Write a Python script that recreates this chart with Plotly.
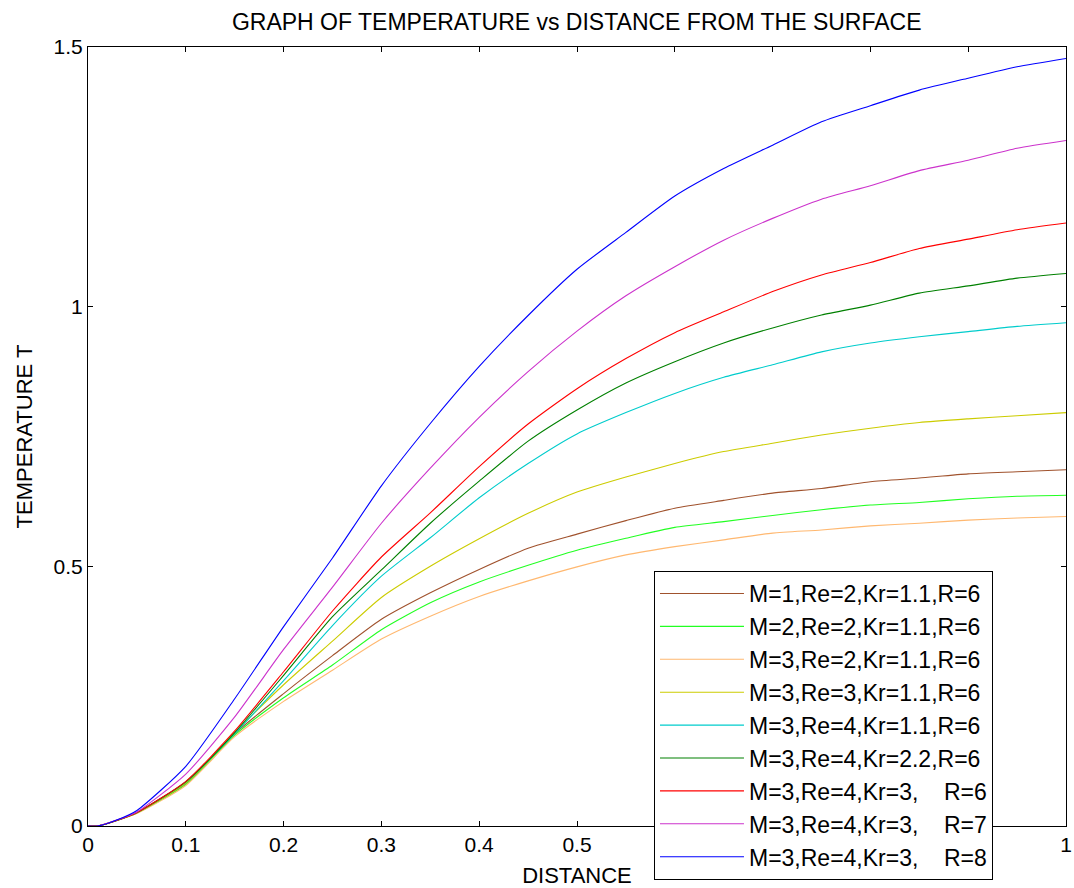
import plotly.graph_objects as go

distance = [0, 0.01, 0.03, 0.05, 0.1, 0.15, 0.2, 0.25, 0.3, 0.35, 0.4, 0.45, 0.5,
            0.55, 0.6, 0.65, 0.7, 0.75, 0.8, 0.85, 0.9, 0.95, 1.0]

t_m1_re2_kr11_r6 = [0, 0, 0.011, 0.025, 0.082, 0.178, 0.255, 0.328, 0.398, 0.449, 0.494, 0.535, 0.562,
                    0.588, 0.612, 0.627, 0.641, 0.650, 0.663, 0.670, 0.678, 0.682, 0.686]
t_m2_re2_kr11_r6 = [0, 0, 0.011, 0.025, 0.080, 0.175, 0.247, 0.310, 0.378, 0.430, 0.470, 0.502, 0.531,
                    0.554, 0.575, 0.586, 0.598, 0.609, 0.618, 0.623, 0.630, 0.635, 0.637]
t_m3_re2_kr11_r6 = [0, 0, 0.011, 0.024, 0.078, 0.172, 0.240, 0.300, 0.360, 0.404, 0.442, 0.472, 0.499,
                    0.522, 0.538, 0.551, 0.564, 0.570, 0.578, 0.583, 0.589, 0.593, 0.596]
t_m3_re3_kr11_r6 = [0, 0, 0.011, 0.025, 0.083, 0.180, 0.272, 0.356, 0.440, 0.500, 0.553, 0.602, 0.643,
                    0.672, 0.698, 0.721, 0.737, 0.753, 0.766, 0.777, 0.784, 0.790, 0.796]
t_m3_re4_kr11_r6 = [0, 0, 0.011, 0.026, 0.085, 0.178, 0.280, 0.386, 0.481, 0.555, 0.632, 0.698, 0.755,
                    0.796, 0.833, 0.864, 0.888, 0.913, 0.930, 0.942, 0.952, 0.962, 0.969]
t_m3_re4_kr22_r6 = [0, 0, 0.011, 0.026, 0.085, 0.180, 0.290, 0.403, 0.493, 0.583, 0.664, 0.741, 0.801,
                    0.853, 0.894, 0.930, 0.959, 0.984, 1.003, 1.026, 1.040, 1.055, 1.064]
t_m3_re4_kr3_r6 = [0, 0, 0.011, 0.026, 0.086, 0.183, 0.297, 0.414, 0.518, 0.603, 0.692, 0.774, 0.842,
                   0.900, 0.950, 0.990, 1.029, 1.061, 1.085, 1.112, 1.130, 1.148, 1.161]
t_m3_re4_kr3_r7 = [0, 0, 0.012, 0.027, 0.100, 0.210, 0.340, 0.460, 0.583, 0.689, 0.787, 0.875, 0.953,
                   1.021, 1.077, 1.128, 1.170, 1.207, 1.233, 1.262, 1.282, 1.305, 1.320]
t_m3_re4_kr3_r8 = [0, 0, 0.012, 0.030, 0.115, 0.245, 0.384, 0.516, 0.655, 0.775, 0.885, 0.983, 1.072,
                   1.143, 1.213, 1.266, 1.311, 1.356, 1.387, 1.417, 1.440, 1.462, 1.478]

series_names = [
    "M=1,Re=2,Kr=1.1,R=6",
    "M=2,Re=2,Kr=1.1,R=6",
    "M=3,Re=2,Kr=1.1,R=6",
    "M=3,Re=3,Kr=1.1,R=6",
    "M=3,Re=4,Kr=1.1,R=6",
    "M=3,Re=4,Kr=2.2,R=6",
    "M=3,Re=4,Kr=3,    R=6",
    "M=3,Re=4,Kr=3,    R=7",
    "M=3,Re=4,Kr=3,    R=8",
]
series_values = [t_m1_re2_kr11_r6, t_m2_re2_kr11_r6, t_m3_re2_kr11_r6, t_m3_re3_kr11_r6,
                 t_m3_re4_kr11_r6, t_m3_re4_kr22_r6, t_m3_re4_kr3_r6, t_m3_re4_kr3_r7,
                 t_m3_re4_kr3_r8]
series_colors = ["#A0522D", "#22FF22", "#FFB870", "#CCCC00", "#00CCCC",
                 "#008000", "#FF0000", "#CC33CC", "#0000FF"]

FONT = "Arial, Liberation Sans, sans-serif"

fig = go.Figure()
for name, vals, col in zip(series_names, series_values, series_colors):
    fig.add_trace(go.Scatter(x=distance, y=vals, mode="lines", name=name,
                             line=dict(color=col, width=1.1, shape="spline", smoothing=0.6)))

axis_common = dict(showline=True, linecolor="black", linewidth=1, mirror="ticks",
                   ticks="inside", ticklen=5, tickcolor="black", showgrid=False,
                   zeroline=False, automargin=False,
                   tickfont=dict(family=FONT, size=21, color="black"))

fig.update_layout(
    width=1074, height=888,
    paper_bgcolor="white", plot_bgcolor="white",
    margin=dict(l=88, r=8, t=47, b=62, autoexpand=False),
    title=dict(text="GRAPH OF TEMPERATURE vs DISTANCE FROM THE SURFACE",
               x=0.537, xanchor="center", y=0.975, yanchor="middle",
               font=dict(family=FONT, size=23, color="black")),
    xaxis=dict(range=[0, 1], dtick=0.1, tick0=0,
               title=dict(text="DISTANCE", standoff=12,
                          font=dict(family=FONT, size=22, color="black")),
               **axis_common),
    yaxis=dict(range=[0, 1.5], dtick=0.5, tick0=0,
               title=dict(text="TEMPERATURE T", standoff=14,
                          font=dict(family=FONT, size=22, color="black")),
               **axis_common),
    legend=dict(x=0.5787, y=0.3273, xanchor="left", yanchor="top",
                bgcolor="white", bordercolor="black", borderwidth=1,
                font=dict(family=FONT, size=23, color="black"),
                itemwidth=84, tracegroupgap=0),
    showlegend=True,
)

fig.write_html("out.html", config={"displayModeBar": False},
               post_script="document.body.style.margin='0px';document.body.style.overflow='hidden';")
